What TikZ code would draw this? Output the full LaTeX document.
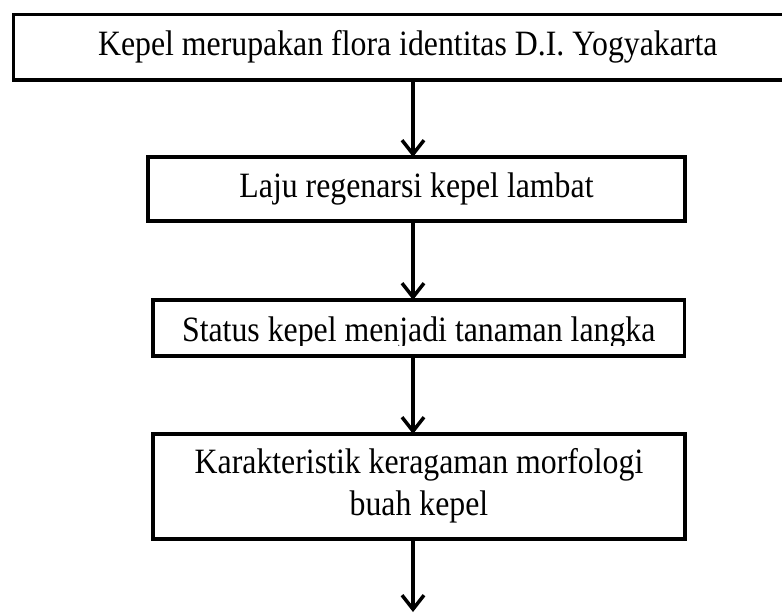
\documentclass[tikz,border=0pt]{standalone}
\usepackage{fontspec}
\usepackage{graphicx}
\setmainfont{Liberation Serif}
\usetikzlibrary{arrows.meta,calc}
\newcommand{\vstretch}[1]{\scalebox{1}[1.12]{#1}}
\begin{document}
\begin{tikzpicture}[x=1pt,y=1pt,
  flowbox/.style={draw=black,line width=3.5pt,fill=white,inner sep=0pt,outer sep=0pt,
    font=\fontsize{31.8}{37.5}\selectfont,align=center,anchor=center},
  flowarrow/.style={line width=3.5pt,-{Straight Barb[length=14pt,width=22pt,line width=3.5pt]}}]
\useasboundingbox (0,0) rectangle (782,-613);
\coordinate (ax) at (413,0);
\node[flowbox,minimum width=788.5pt,minimum height=65.5pt] (b1) at (407.75,-47.25)
  {\vstretch{Kepel merupakan flora identitas D.I. Yogyakarta}};
\node[flowbox,minimum width=537pt,minimum height=64pt] (b2) at (416.5,-189)
  {\vstretch{Laju regenarsi kepel lambat}};
\node[flowbox,minimum width=531.5pt,minimum height=56pt] (b3) at (418.75,-328)
  {\raisebox{-13.5pt}[0pt][0pt]{\vstretch{Status kepel menjadi tanaman langka}}};
\fill[white] ($(b3.south west)+(1.9,1.9)$) rectangle ($(b3.south east)+(-1.9,10.5)$);
\node[flowbox,minimum width=532pt,minimum height=105pt] (b4) at (419,-486.5)
  {\vstretch{\begin{tabular}{@{}c@{}}Karakteristik keragaman morfologi\\buah kepel\end{tabular}}};
\coordinate (end) at (413,-612);
\draw[flowarrow] (b1.south -| ax) -- (b2.north -| ax);
\draw[flowarrow] (b2.south -| ax) -- (b3.north -| ax);
\draw[flowarrow] (b3.south -| ax) -- (b4.north -| ax);
\draw[flowarrow] (b4.south -| ax) -- (end);
\end{tikzpicture}
\end{document}
